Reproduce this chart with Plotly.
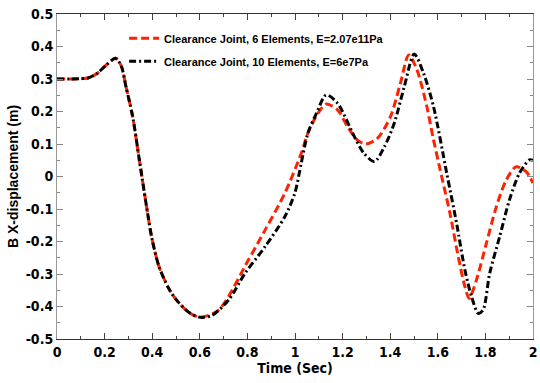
import plotly.graph_objects as go

# Clearance Joint, 6 Elements, E=2.07e11Pa
t_red = [0, 0.05, 0.10, 0.13, 0.17, 0.207, 0.246, 0.27, 0.29, 0.318, 0.346, 0.38, 0.40,
         0.43, 0.47, 0.5, 0.554, 0.6, 0.679, 0.804, 0.874, 0.957, 1.026, 1.054, 1.096,
         1.131, 1.179, 1.221, 1.2625, 1.297, 1.346, 1.401, 1.443, 1.478, 1.5125, 1.554,
         1.58, 1.61, 1.651, 1.686, 1.714, 1.732, 1.7625, 1.804, 1.846, 1.8875, 1.929,
         1.971, 2.0]
v_red = [0.30, 0.30, 0.301, 0.303, 0.318, 0.343, 0.364, 0.34, 0.276, 0.184, 0.051, -0.11,
         -0.195, -0.28, -0.345, -0.378, -0.418, -0.433, -0.411, -0.257, -0.165, -0.052,
         0.071, 0.133, 0.194, 0.223, 0.205, 0.153, 0.112, 0.10, 0.117, 0.184, 0.287, 0.374,
         0.328, 0.215, 0.12, 0.02, -0.113, -0.247, -0.339, -0.375, -0.318, -0.206, -0.093,
         -0.011, 0.03, 0.015, -0.02]

# Clearance Joint, 10 Elements, E=6e7Pa
t_blk = [0, 0.05, 0.10, 0.13, 0.17, 0.207, 0.246, 0.27, 0.29, 0.318, 0.346, 0.38, 0.40,
         0.43, 0.47, 0.5, 0.554, 0.6, 0.65, 0.721, 0.79, 0.874, 0.957, 0.999, 1.026,
         1.054, 1.09, 1.131, 1.179, 1.25, 1.29, 1.334, 1.376, 1.417, 1.459, 1.501, 1.54,
         1.582, 1.6375, 1.679, 1.714, 1.742, 1.77, 1.79, 1.818, 1.86, 1.901, 1.943, 1.985,
         2.0]
v_blk = [0.30, 0.30, 0.301, 0.303, 0.318, 0.343, 0.364, 0.34, 0.276, 0.184, 0.051, -0.11,
         -0.195, -0.28, -0.345, -0.378, -0.418, -0.433, -0.428, -0.38, -0.298, -0.216,
         -0.124, -0.052, 0.04, 0.133, 0.194, 0.251, 0.225, 0.122, 0.071, 0.046, 0.092,
         0.164, 0.276, 0.377, 0.318, 0.215, 0.01, -0.144, -0.288, -0.37, -0.421, -0.411,
         -0.298, -0.185, -0.072, 0.01, 0.051, 0.05]

x_ticks = [0, 0.2, 0.4, 0.6, 0.8, 1.0, 1.2, 1.4, 1.6, 1.8, 2.0]
x_labels = ["0", "0.2", "0.4", "0.6", "0.8", "1", "1.2", "1.4", "1.6", "1.8", "2"]
y_ticks = [0.5, 0.4, 0.3, 0.2, 0.1, 0, -0.1, -0.2, -0.3, -0.4, -0.5]
y_labels = ["0.5", "0.4", "0.3", "0.2", "0.1", "0", "-0.1", "-0.2", "-0.3", "-0.4", "-0.5"]

narrow = "DejaVu Sans Condensed, Liberation Sans Narrow, Arial Narrow, sans-serif"

fig = go.Figure()
fig.add_trace(go.Scatter(
    x=t_red, y=v_red, mode="lines", name="Clearance Joint, 6 Elements, E=2.07e11Pa",
    line=dict(color="#ff2200", width=3, dash="8px,4px", shape="spline", smoothing=0.8),
    legendgroup="a"))
fig.add_trace(go.Scatter(
    x=t_blk, y=v_blk, mode="lines", name="Clearance Joint, 10 Elements, E=6e7Pa",
    line=dict(color="#000000", width=3, dash="7px,3px,2px,3px", shape="spline", smoothing=0.8),
    legendgroup="b"))

fig.update_layout(
    width=540, height=383,
    margin=dict(l=57, r=3, t=14, b=44),
    paper_bgcolor="white", plot_bgcolor="white",
    showlegend=True,
    legend=dict(x=0.141, y=0.97, xanchor="left", yanchor="top",
                bgcolor="rgba(0,0,0,0)", borderwidth=0, tracegroupgap=4,
                font=dict(family="Liberation Sans, Arial, sans-serif", size=11, color="black",
                          weight="bold")),
    xaxis=dict(range=[0, 2], tickvals=x_ticks, ticktext=x_labels, ticks="inside",
               ticklen=6, tickcolor="#444", linecolor="#333", linewidth=1, mirror="ticks",
               showgrid=False, zeroline=False, showline=True, ticklabeloverflow="allow",
               minor=dict(dtick=0.1, ticks="inside", ticklen=3, tickcolor="#444"),
               tickfont=dict(family=narrow, size=14, color="black", weight="bold"),
               title=dict(text="Time (Sec)", standoff=4,
                          font=dict(family=narrow, size=14, color="black", weight="bold"))),
    yaxis=dict(range=[-0.5, 0.5], tickvals=y_ticks, ticktext=y_labels, ticks="inside",
               ticklen=6, tickcolor="#888", linecolor="#999", linewidth=1, mirror="ticks",
               showgrid=False, zeroline=False, showline=True,
               minor=dict(dtick=0.05, ticks="inside", ticklen=3, tickcolor="#888"),
               tickfont=dict(family=narrow, size=14, color="black", weight="bold"),
               title=dict(text="B X-displacement (m)", standoff=3,
                          font=dict(family="Liberation Sans, Arial, sans-serif", size=14,
                                    color="black", weight="bold"))),
)

fig.write_html("out.html")
